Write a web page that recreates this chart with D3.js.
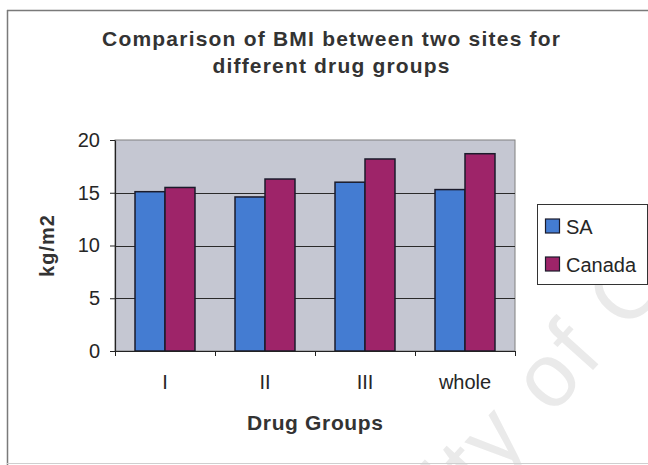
<!DOCTYPE html>
<html>
<head>
<meta charset="utf-8">
<script src="https://cdn.jsdelivr.net/npm/d3@7"></script>
<style>
  html, body { margin: 0; padding: 0; background: #ffffff; }
  svg { display: block; }
  text { font-family: "Liberation Sans", Arial, sans-serif; }
</style>
</head>
<body>
<svg id="chart" width="648" height="465"></svg>
<script>
// BMI by drug group at the two study sites
const categories = ["I", "II", "III", "whole"];
const series = ["SA", "Canada"];
const saValues = [15.1, 14.6, 16.0, 15.3];
const canadaValues = [15.5, 16.3, 18.2, 18.7];
const yTicks = [0, 5, 10, 15, 20];
const titleLines = ["Comparison of BMI between two sites for", "different drug groups"];
const xTitle = "Drug Groups";
const yTitle = "kg/m2";
const watermark = "University of Cape Town";

const colors = { SA: "#447cd2", Canada: "#9e2469" };
const rows = categories.map((c, i) => ({ cat: c, SA: saValues[i], Canada: canadaValues[i] }));

const svg = d3.select("#chart");
const plot = { left: 115, right: 515, top: 140, bottom: 351 };

// faint background watermark
const wmSize = 90;
const wm = svg.append("text")
  .text(watermark)
  .attr("x", 0).attr("y", 0)
  .attr("font-size", wmSize)
  .attr("letter-spacing", 4)
  .attr("fill", "#eaeaea");
{
  const idx = watermark.indexOf(" of ") + 1;
  const p = wm.node().getStartPositionOfChar(idx);
  const lx = p.x + 0.278 * wmSize, ly = -0.26 * wmSize;
  const ang = -48 * Math.PI / 180;
  const rx = lx * Math.cos(ang) - ly * Math.sin(ang);
  const ry = lx * Math.sin(ang) + ly * Math.cos(ang);
  wm.attr("transform", `translate(${551 - rx},${382 - ry}) rotate(-48)`);
}

// outer chart frame
svg.append("line").attr("x1", 7).attr("x2", 648).attr("y1", 10.5).attr("y2", 10.5)
  .attr("stroke", "#7a7a7a").attr("stroke-width", 1.5);
svg.append("line").attr("x1", 7.5).attr("x2", 7.5).attr("y1", 10).attr("y2", 465)
  .attr("stroke", "#7a7a7a").attr("stroke-width", 1.5);
svg.append("line").attr("x1", 7).attr("x2", 648).attr("y1", 463.5).attr("y2", 463.5)
  .attr("stroke", "#cfcfcf").attr("stroke-width", 1);

// title
const titleText = svg.append("g").attr("fill", "#333333").attr("font-weight", "bold").attr("font-size", 21);
const titleWidths = [458, 237];
const titleBaselines = [46, 73];
titleLines.forEach((t, i) => {
  titleText.append("text")
    .attr("x", 331).attr("y", titleBaselines[i])
    .attr("text-anchor", "middle")
    .attr("textLength", titleWidths[i])
    .attr("lengthAdjust", "spacing")
    .text(t);
});

// scales
const x0 = d3.scaleBand().domain(categories).range([plot.left, plot.right]).padding(0);
const x1 = d3.scaleBand().domain(series).range([0, x0.bandwidth()]).paddingInner(0).paddingOuter(0.667);
const y = d3.scaleLinear().domain([0, 20]).range([plot.bottom, plot.top]);
const xEdge = d3.scaleLinear().domain([0, categories.length]).range([plot.left, plot.right]);

// plot area
svg.append("rect")
  .attr("x", plot.left).attr("y", plot.top)
  .attr("width", plot.right - plot.left).attr("height", plot.bottom - plot.top)
  .attr("fill", "#c5c7d2")
  .attr("stroke", "#808080").attr("stroke-width", 1);

// gridlines
svg.append("g").selectAll("line")
  .data(yTicks.filter(v => v > 0 && v < 20))
  .join("line")
  .attr("x1", plot.left).attr("x2", plot.right)
  .attr("y1", d => Math.round(y(d)) + 0.5).attr("y2", d => Math.round(y(d)) + 0.5)
  .attr("stroke", "#2a2a2a").attr("stroke-width", 1);

// bars
const groups = svg.append("g").selectAll("g")
  .data(rows)
  .join("g")
  .attr("transform", d => `translate(${x0(d.cat)},0)`);
groups.selectAll("rect")
  .data(d => series.map(s => ({ s, v: d[s] })))
  .join("rect")
  .attr("x", d => x1(d.s))
  .attr("y", d => y(d.v))
  .attr("width", x1.bandwidth())
  .attr("height", d => y(0) - y(d.v))
  .attr("fill", d => colors[d.s])
  .attr("stroke", "#1b1b2b")
  .attr("stroke-width", 1.5);

// y axis
const yAxis = svg.append("g")
  .attr("transform", `translate(${plot.left},0)`)
  .call(d3.axisLeft(y).tickValues(yTicks).tickSize(5).tickPadding(10).tickSizeOuter(0));
yAxis.select(".domain").attr("stroke", "#222").attr("stroke-width", 1.2);
yAxis.selectAll(".tick line").attr("stroke", "#222");
yAxis.selectAll(".tick text").attr("font-size", 20).attr("fill", "#262626")
  .attr("font-family", "Liberation Sans, Arial, sans-serif");

// x axis: boundary ticks plus centred labels
const xTicks = svg.append("g")
  .attr("transform", `translate(0,${plot.bottom})`)
  .call(d3.axisBottom(xEdge).tickValues(d3.range(categories.length + 1)).tickFormat("").tickSize(5).tickSizeOuter(0));
xTicks.select(".domain").attr("stroke", "#222").attr("stroke-width", 1.2);
xTicks.selectAll(".tick line").attr("stroke", "#222");

const xLabels = svg.append("g")
  .attr("transform", `translate(0,${plot.bottom})`)
  .call(d3.axisBottom(x0).tickSize(0).tickPadding(24));
xLabels.select(".domain").remove();
xLabels.selectAll(".tick text").attr("font-size", 20).attr("fill", "#262626")
  .attr("font-family", "Liberation Sans, Arial, sans-serif");

// axis titles
svg.append("text")
  .attr("x", 315).attr("y", 430)
  .attr("text-anchor", "middle")
  .attr("font-size", 21).attr("font-weight", "bold").attr("fill", "#333333")
  .attr("textLength", 136).attr("lengthAdjust", "spacing")
  .text(xTitle);
svg.append("text")
  .attr("transform", "translate(54,246) rotate(-90)")
  .attr("text-anchor", "middle")
  .attr("font-size", 20).attr("font-weight", "bold").attr("fill", "#333333")
  .attr("textLength", 62).attr("lengthAdjust", "spacing")
  .text(yTitle);

// legend
const legend = svg.append("g");
legend.append("rect")
  .attr("x", 537.5).attr("y", 204.5).attr("width", 110).attr("height", 80)
  .attr("fill", "#ffffff").attr("stroke", "#333").attr("stroke-width", 1);
const legendY = d3.scalePoint().domain(series).range([226, 264]);
const items = legend.selectAll("g.item").data(series).join("g").attr("class", "item")
  .attr("transform", d => `translate(0,${legendY(d)})`);
items.append("rect")
  .attr("x", 545.5).attr("y", -7).attr("width", 14).attr("height", 14)
  .attr("fill", d => colors[d]).attr("stroke", "#1b1b2b").attr("stroke-width", 1.2);
items.append("text")
  .attr("x", 566).attr("y", 7.5)
  .attr("font-size", 20).attr("fill", "#262626")
  .text(d => d);
</script>
</body>
</html>
